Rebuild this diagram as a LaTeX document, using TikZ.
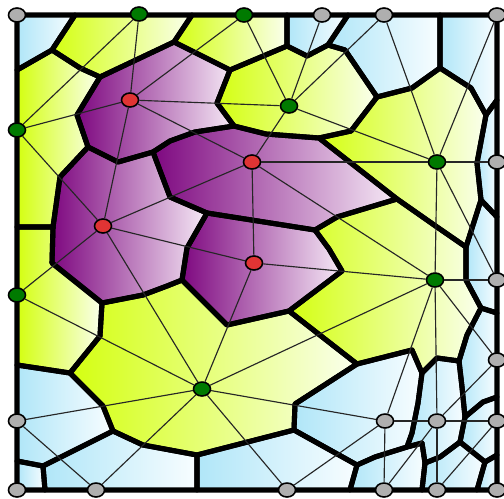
\documentclass[tikz,border=0pt]{standalone}
\usepackage{tikz}
\usetikzlibrary{shapes.geometric}
\usepackage{xcolor}
\definecolor{iceDeep}{HTML}{B0E6F8}
\definecolor{icePale}{HTML}{F8FDFF}
\definecolor{limeDeep}{HTML}{D4FF10}
\definecolor{limePale}{HTML}{FAFFEE}
\definecolor{plumDeep}{HTML}{7E0880}
\definecolor{plumPale}{HTML}{F6EAF6}
\definecolor{siteGrey}{HTML}{AFAFAF}
\definecolor{siteGreen}{HTML}{007A00}
\definecolor{siteRed}{HTML}{E03434}

% cells, one polygon each
\newcommand{\iceCells}{%
  {(17,15)--(75,15)--(52,50)--(17,70)},
  {(287,15)--(348,15)--(328,45)--(307,56)--(287,46)},
  {(348,15)--(440,15)--(440,68)--(412,88)--(377,97)--(345,50)--(328,45)},
  {(440,15)--(497,15)--(497,100)--(486,115)--(471,88)--(440,68)},
  {(486,115)--(497,100)--(497,217)--(481,200)--(477,163)},
  {(481,200)--(497,217)--(497,313)--(481,308)--(466,280)--(466,247)},
  {(467,335)--(481,308)--(497,313)--(497,397)--(483,402)--(465,417)--(462,387)--(459,361)},
  {(17,365)--(70,373)--(103,406)--(113,431)--(43,466)--(17,461)},
  {(295,404)--(357,364)--(412,350)--(422,373)--(418,403)--(412,433)--(407,447)--(375,457)--(357,465)--(294,430)},
  {(422,373)--(437,358)--(459,361)--(462,387)--(465,417)--(460,442)--(440,457)--(425,463)--(422,443)--(407,447)--(412,433)--(418,403)},
  {(465,417)--(483,402)--(497,397)--(497,455)--(485,462)--(460,442)},
  {(17,461)--(43,466)--(45,490)--(17,490)},
  {(43,466)--(113,431)--(143,445)--(197,455)--(197,490)--(45,490)},
  {(197,455)--(294,430)--(357,465)--(350,490)--(197,490)},
  {(357,465)--(375,457)--(407,447)--(422,443)--(425,463)--(422,490)--(350,490)},
  {(425,463)--(440,457)--(460,442)--(485,462)--(477,490)--(422,490)},
  {(485,462)--(497,455)--(497,490)--(477,490)}}
\newcommand{\limeCells}{%
  {(75,15)--(52,50)--(80,68)--(100,77)--(174,42)--(192,15)},
  {(192,15)--(174,42)--(230,70)--(287,46)--(287,15)},
  {(17,70)--(52,50)--(80,68)--(100,77)--(77,115)--(88,147)--(60,177)--(53,227)--(17,227)},
  {(230,70)--(287,46)--(307,56)--(328,45)--(345,50)--(377,97)--(351,131)--(319,138)--(266,134)--(234,126)--(217,103)},
  {(319,138)--(351,131)--(377,97)--(412,88)--(440,68)--(471,88)--(486,115)--(477,163)--(481,200)--(466,247)--(437,227)--(397,199)},
  {(337,217)--(397,199)--(437,227)--(466,247)--(466,280)--(481,308)--(467,335)--(459,361)--(437,358)--(422,373)--(412,350)--(357,364)--(289,311)--(342,271)--(329,249)--(315,230)},
  {(17,227)--(53,227)--(52,263)--(102,303)--(100,336)--(70,373)--(17,365)},
  {(100,336)--(102,303)--(143,295)--(167,286)--(182,280)--(227,325)--(289,311)--(357,364)--(295,404)--(294,430)--(197,455)--(143,445)--(113,431)--(103,406)--(70,373)}}
\newcommand{\plumCells}{%
  {(100,77)--(174,42)--(230,70)--(217,103)--(234,126)--(195,132)--(170,141)--(153,152)--(118,162)--(88,147)--(77,115)},
  {(153,152)--(170,141)--(195,132)--(234,126)--(266,134)--(319,138)--(397,199)--(337,217)--(315,230)--(207,213)--(170,197)},
  {(88,147)--(118,162)--(153,152)--(170,197)--(207,213)--(187,248)--(182,280)--(167,286)--(143,295)--(102,303)--(52,263)--(53,227)--(60,177)},
  {(207,213)--(315,230)--(329,249)--(342,271)--(289,311)--(227,325)--(182,280)--(187,248)}}

\begin{document}
\begin{tikzpicture}[x=0.02cm,y=-0.02cm,
  wall/.style={line width=2.9pt,line join=round},
  link/.style={line width=0.65pt,black!85},
  site/.style={ellipse,draw,line width=0.9pt,inner sep=0pt,minimum width=0.34cm,minimum height=0.28cm}]
  \useasboundingbox (0,0) rectangle (504,498);
  \foreach \p in \iceCells {\shade[left color=iceDeep,right color=icePale] \p -- cycle;}
  \foreach \p in \limeCells {\shade[left color=limeDeep,right color=limePale] \p -- cycle;}
  \foreach \p in \plumCells {\shade[left color=plumDeep,right color=plumPale] \p -- cycle;}
  \foreach \p in \iceCells {\draw[wall] \p -- cycle;}
  \foreach \p in \limeCells {\draw[wall] \p -- cycle;}
  \foreach \p in \plumCells {\draw[wall] \p -- cycle;}
  % sites
  \foreach \x/\y/\name in {17/15/s1, 322/15/s4, 384/15/s5, 497/15/s6, 497/162/s12,
    497/280/s16, 497/360/s18, 17/421/s20, 385/421/s21, 437/421/s22, 497/421/s23,
    17/490/s24, 96/490/s25, 287/490/s26, 384/490/s27, 437/490/s28, 497/490/s29}
    \node[site,fill=siteGrey] (\name) at (\x,\y) {};
  \foreach \x/\y/\name in {139/14/s2, 244/15/s3, 17/130/s7, 289/106/s9, 437/162/s11,
    435/280/s15, 17/295/s17, 202/389/s19}
    \node[site,fill=siteGreen] (\name) at (\x,\y) {};
  \foreach \x/\y/\name in {130/100/s8, 252/162/s10, 103/226/s13, 254/263/s14}
    \node[site,fill=siteRed] (\name) at (\x,\y) {};
  % mesh edges
  \foreach \a/\b in {s2/s8, s2/s7, s7/s8, s7/s13, s8/s3, s8/s10, s8/s9, s8/s13,
    s13/s10, s13/s14, s17/s13, s13/s19, s17/s19, s20/s19, s20/s25, s25/s19,
    s19/s14, s19/s26, s19/s21, s19/s15, s14/s15, s10/s14, s10/s9, s10/s11,
    s10/s15, s9/s3, s9/s4, s9/s5, s9/s11, s5/s11, s6/s11, s11/s12, s11/s15,
    s11/s16, s15/s16, s15/s18, s15/s22, s15/s21, s18/s22, s22/s23, s21/s22,
    s21/s27, s21/s26, s22/s27, s22/s28, s23/s28}
    \draw[link] (\a) -- (\b);
\end{tikzpicture}
\end{document}
